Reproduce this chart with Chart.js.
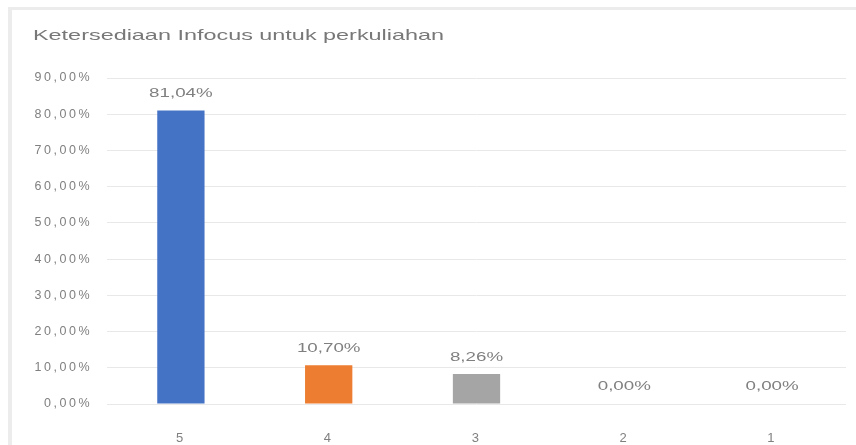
<!DOCTYPE html>
<html>
<head>
<meta charset="utf-8">
<script src="https://cdn.jsdelivr.net/npm/chart.js@4.4.0/dist/chart.umd.min.js"></script>
<style>
  html, body { margin: 0; padding: 0; background: #fff; }
  #wrap { position: relative; width: 856px; height: 445px; overflow: hidden; }
  #frame { position: absolute; left: 8px; top: 7px; width: 900px; height: 500px;
           border-left: 4px solid #ececec; border-top: 3px solid #ececec; box-sizing: border-box; }
  canvas { position: absolute; left: 0; top: 0; }
</style>
</head>
<body>
<div id="wrap">
  <div id="frame"></div>
  <canvas id="c" width="856" height="445"></canvas>
</div>
<script>
const chartTitle = 'Ketersediaan Infocus untuk perkuliahan';
const categories = ['5', '4', '3', '2', '1'];
const values = [81.04, 10.70, 8.26, 0.00, 0.00];
const barColors = ['#4472C4', '#ED7D31', '#A5A5A5', '#FFC000', '#5B9BD5'];
const yMin = 0, yMax = 90, yStep = 10;

const fmtPct = v => v.toFixed(2).replace('.', ',') + '%';
const FONT = '"Liberation Sans", Arial, sans-serif';
const TEXT = '#808080';

function stretchedText(ctx, str, x, y, sx, align) {
  ctx.save();
  ctx.translate(x, y);
  ctx.scale(sx, 1);
  ctx.textAlign = align;
  ctx.fillText(str, 0, 0);
  ctx.restore();
}

const textPlugin = {
  id: 'textPlugin',
  beforeDraw(chart) {
    chart.ctx.letterSpacing = '2.5px';
  },
  afterDatasetsDraw(chart) {
    const ctx = chart.ctx;
    ctx.save();
    ctx.letterSpacing = '0px';
    ctx.fillStyle = TEXT;
    ctx.font = '12.5px ' + FONT;
    ctx.textBaseline = 'middle';
    const meta = chart.getDatasetMeta(0);
    meta.data.forEach((bar, i) => {
      stretchedText(ctx, fmtPct(values[i]), bar.x, bar.y - 17, 1.5, 'center');
    });
    ctx.fillStyle = '#787878';
    ctx.font = '15px ' + FONT;
    stretchedText(ctx, chartTitle, 33, 36, 1.56, 'left');
    ctx.restore();
  }
};

new Chart(document.getElementById('c'), {
  type: 'bar',
  data: {
    labels: categories,
    datasets: [{
      data: values,
      backgroundColor: barColors,
      borderWidth: 0,
      categoryPercentage: 1.0,
      barPercentage: 0.32
    }]
  },
  options: {
    responsive: false,
    animation: false,
    layout: { padding: { left: 10, right: 10, top: 78, bottom: 0 } },
    plugins: {
      legend: { display: false },
      title: { display: false },
      tooltip: { enabled: false }
    },
    scales: {
      x: {
        grid: { display: false },
        border: { display: false },
        ticks: { color: TEXT, font: { family: FONT, size: 13 }, padding: 19 },
        afterFit(s) { s.height = 41; }
      },
      y: {
        min: yMin,
        max: yMax,
        grid: { color: '#e8e8e8', lineWidth: 1, drawTicks: false },
        border: { display: false },
        ticks: {
          stepSize: yStep,
          color: TEXT,
          font: { family: FONT, size: 12.5 },
          padding: 15,
          callback: v => fmtPct(v)
        },
        afterFit(s) { s.width = 97; }
      }
    }
  },
  plugins: [textPlugin]
});
</script>
</body>
</html>
